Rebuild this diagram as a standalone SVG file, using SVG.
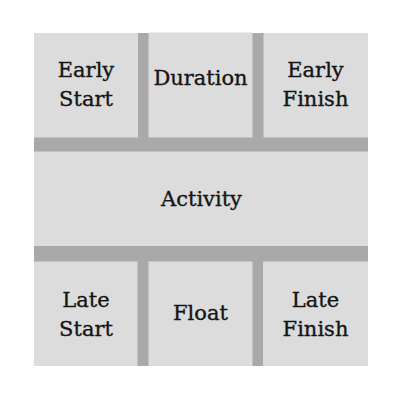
<svg xmlns="http://www.w3.org/2000/svg" width="400" height="400" viewBox="0 0 400 400">
<style>
.bg{fill:#a9a9a9}
.box{fill:#dcdcdc}
.t{font-family:"DejaVu Serif","Liberation Serif",serif;font-size:21px;fill:#151515;stroke:#151515;stroke-width:0.35;text-anchor:middle}
</style>
<rect width="400" height="400" fill="#ffffff"/>
<rect class="bg" x="34" y="33" width="334" height="333"/>
<g id="connectors"></g>
<g id="early-start">
<rect class="box" x="34" y="33" width="104" height="104.5"/>
<text class="t" x="86" y="77">Early</text>
<text class="t" x="86" y="106">Start</text>
</g>
<g id="duration">
<rect class="box" x="148.5" y="32.5" width="104" height="105"/>
<text class="t" x="200.5" y="85">Duration</text>
</g>
<g id="early-finish">
<rect class="box" x="263.5" y="33" width="104.5" height="104.5"/>
<text class="t" x="315.5" y="77">Early</text>
<text class="t" x="315.5" y="105.5">Finish</text>
</g>
<g id="activity">
<rect class="box" x="34" y="151.5" width="334" height="94.5"/>
<text class="t" x="201.5" y="206">Activity</text>
</g>
<g id="late-start">
<rect class="box" x="34" y="261.5" width="103.5" height="104.5"/>
<text class="t" x="86" y="306.5">Late</text>
<text class="t" x="86" y="335.5">Start</text>
</g>
<g id="float">
<rect class="box" x="148.5" y="261.5" width="104" height="104.5"/>
<text class="t" x="200.5" y="320">Float</text>
</g>
<g id="late-finish">
<rect class="box" x="263" y="261.5" width="105" height="104.5"/>
<text class="t" x="315.5" y="306.5">Late</text>
<text class="t" x="315.5" y="335.5">Finish</text>
</g>
</svg>
